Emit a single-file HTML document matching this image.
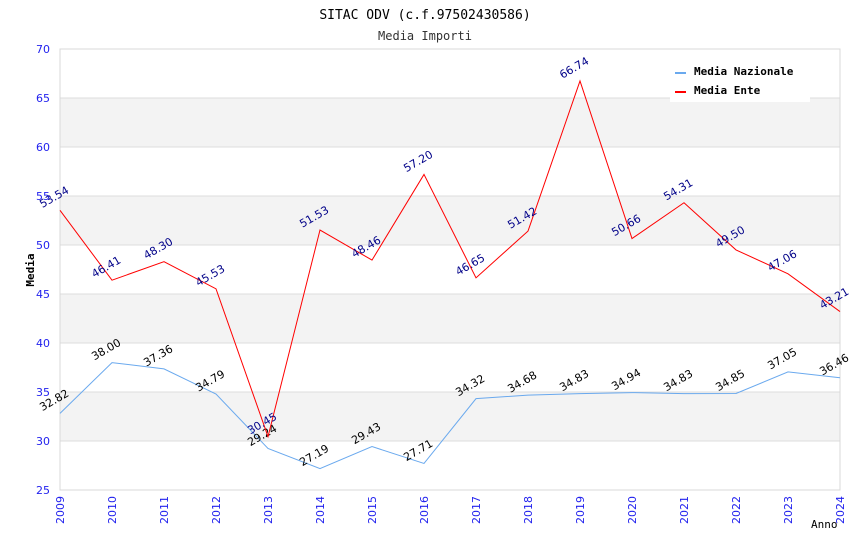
<!DOCTYPE html>
<html><head><meta charset="utf-8"><style>
body{margin:0;background:#fff}
svg{display:block}
</style></head><body>
<svg id="chart" width="850" height="550" xmlns="http://www.w3.org/2000/svg">
<text x="425" y="19" text-anchor="middle" font-family="DejaVu Sans Mono, monospace" font-size="13" fill="#000">SITAC ODV (c.f.97502430586)</text>
<text x="425" y="40" text-anchor="middle" font-family="DejaVu Sans Mono, monospace" font-size="12" fill="#333">Media Importi</text>
<g id="plot"></g>
<text transform="translate(34,270) rotate(-90)" text-anchor="middle" font-family="DejaVu Sans Mono, monospace" font-size="11" font-weight="bold" fill="#000">Media</text>
<text x="811" y="528" font-family="DejaVu Sans Mono, monospace" font-size="11" fill="#000">Anno</text>
<g>
<rect x="670" y="58" width="140" height="44" fill="#fff"/>
<rect x="675" y="72" width="11" height="2" fill="#6aa9ee"/>
<text x="694" y="75" font-family="DejaVu Sans Mono, monospace" font-size="11" font-weight="bold" fill="#000">Media Nazionale</text>
<rect x="675" y="91" width="11" height="2" fill="#ff0000"/>
<text x="694" y="94" font-family="DejaVu Sans Mono, monospace" font-size="11" font-weight="bold" fill="#000">Media Ente</text>
</g>
</svg>
<script>
const years = [2009,2010,2011,2012,2013,2014,2015,2016,2017,2018,2019,2020,2021,2022,2023,2024];
const nazionale = [32.82,38.00,37.36,34.79,29.24,27.19,29.43,27.71,34.32,34.68,34.83,34.94,34.83,34.85,37.05,36.46];
const ente = [53.54,46.41,48.30,45.53,30.45,51.53,48.46,57.20,46.65,51.42,66.74,50.66,54.31,49.50,47.06,43.21];
const yTicks = [25,30,35,40,45,50,55,60,65,70];

const NS='http://www.w3.org/2000/svg';
const L=60,R=840,T=49,B=490,yMin=25,yMax=70;
const xs=i=>L+(R-L)*i/(years.length-1);
const ys=v=>B-(B-T)*(v-yMin)/(yMax-yMin);
const plot=document.getElementById('plot');
function mk(tag,attrs){const e=document.createElementNS(NS,tag);for(const k in attrs)e.setAttribute(k,attrs[k]);plot.appendChild(e);return e;}
for(let i=0;i<yTicks.length-1;i++){
  if(i%2===1){const r=mk('rect',{x:L,y:ys(yTicks[i+1]),width:R-L,height:ys(yTicks[i])-ys(yTicks[i+1]),fill:'#f3f3f3'});
  
  }
}
yTicks.forEach(t=>{
  const g=mk('line',{x1:L,x2:R,y1:ys(t),y2:ys(t),stroke:'#dddddd','stroke-width':1});
  
  
  const tx=mk('text',{x:L-10,y:ys(t)+4,'text-anchor':'end','font-family':'DejaVu Sans, sans-serif','font-size':'11',fill:'#2222ee'});
  tx.textContent=t;
  
  
});
const frame=mk('rect',{x:L,y:T,width:R-L,height:B-T,fill:'none',stroke:'#d8d8d8'});


years.forEach((y,i)=>{
  const tx=mk('text',{transform:`translate(${xs(i)+4},${B+6}) rotate(-90)`,'text-anchor':'end','font-family':'DejaVu Sans, sans-serif','font-size':'11',fill:'#2222ee'});
  tx.textContent=y;
  
  
});
function series(vals,color,labelColor,name){
  const p=mk('polyline',{points:vals.map((v,i)=>xs(i)+','+ys(v)).join(' '),fill:'none',stroke:color,'stroke-width':1});
  
  
  vals.forEach((v,i)=>{
    const t=mk('text',{transform:`translate(${xs(i)-4},${ys(v)-10}) rotate(-30)`,'text-anchor':'middle','font-family':'DejaVu Sans, sans-serif','font-size':'11',fill:labelColor});
    t.textContent=v.toFixed(2);
    
    
  });
}
series(nazionale,'#6aa9ee','#000','nazionale');
series(ente,'#ff0000','#000088','ente');
</script>
</body></html>
